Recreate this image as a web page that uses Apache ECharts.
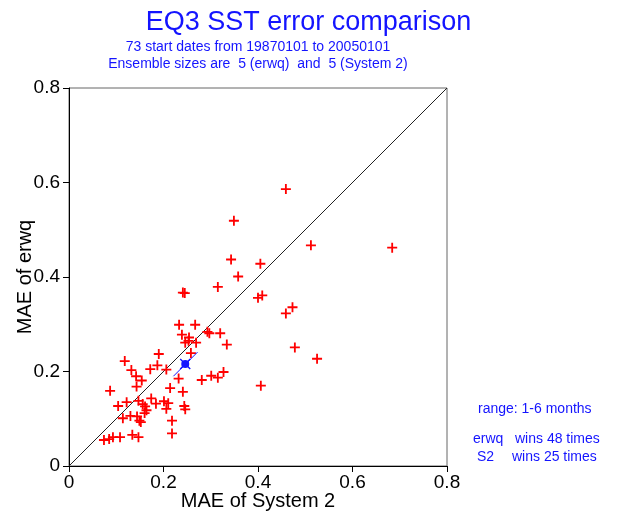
<!DOCTYPE html>
<html><head><meta charset="utf-8">
<script src="https://cdn.jsdelivr.net/npm/echarts@6/dist/echarts.min.js"></script>
<style>html,body{margin:0;padding:0;background:#fff}#c{width:617px;height:514px}</style>
</head><body><div id="c"></div>
<script>
// MAE of System 2 (x) and MAE of erwq (y) for each of the 73 start dates
const maeSystem2 = [
  0.459,0.349,0.512,0.684,0.343,0.405,0.358,0.315,0.241,0.400,
  0.409,0.459,0.473,0.478,0.525,0.233,0.267,0.239,0.254,0.253,
  0.246,0.269,0.293,0.297,0.320,0.334,0.258,0.190,0.118,0.187,
  0.172,0.206,0.132,0.142,0.154,0.232,0.281,0.301,0.315,0.327,
  0.406,0.143,0.214,0.241,0.087,0.122,0.104,0.147,0.156,0.161,
  0.174,0.184,0.201,0.210,0.164,0.206,0.244,0.246,0.114,0.130,
  0.144,0.149,0.218,0.218,0.074,0.085,0.093,0.108,0.134,0.147,
  0.160,0.152,0.245
];
const maeErwq = [
  0.586,0.519,0.467,0.462,0.437,0.428,0.401,0.379,0.367,0.356,
  0.361,0.323,0.336,0.251,0.227,0.299,0.299,0.278,0.272,0.265,
  0.261,0.261,0.284,0.281,0.281,0.257,0.239,0.237,0.222,0.213,
  0.205,0.204,0.203,0.190,0.181,0.185,0.182,0.191,0.187,0.199,
  0.170,0.168,0.165,0.157,0.159,0.135,0.127,0.138,0.131,0.126,
  0.143,0.132,0.137,0.133,0.118,0.121,0.127,0.120,0.101,0.106,
  0.105,0.096,0.096,0.069,0.055,0.057,0.061,0.061,0.066,0.061,
  0.112,0.093,0.366
];
const meanPoint = [0.246, 0.216];
const meanBarX = [0.221, 0.272];
const meanBarY = [0.190, 0.241];
const diagX = [0, 0.8];
const diagY = [0, 0.8];
const axisTicks = [0, 0.2, 0.4, 0.6, 0.8];

const titleText = 'EQ3 SST error comparison';
const subtitle1 = '73 start dates from 19870101 to 20050101';
const subtitle2 = 'Ensemble sizes are  5 (erwq)  and  5 (System 2)';
const rangeText = 'range: 1-6 months';
const winsA = ['erwq', 'wins 48 times'];
const winsB = ['S2', 'wins 25 times'];

const FONT = '"Liberation Sans", Arial, Helvetica, sans-serif';
const BLUE = '#1414ff';
const PLUS = 'path://M0,4.5L11,4.5L11,6.5L0,6.5ZM4.5,0L6.5,0L6.5,11L4.5,11Z';
const XMARK = 'path://M0,1L1,0L11,10L10,11ZM10,0L11,1L1,11L0,10Z';

const chart = echarts.init(document.getElementById('c'), null, {renderer: 'canvas'});
const fmt = v => v === 0 ? '0' : v.toFixed(1);
const axisCommon = {
  type: 'value', min: axisTicks[0], max: axisTicks[axisTicks.length - 1], interval: 0.2,
  splitLine: {show: false},
  axisLine: {show: true, onZero: false, lineStyle: {color: '#000', width: 1}},
  axisTick: {show: true, inside: false, length: 6, lineStyle: {color: '#000', width: 1}},
  nameLocation: 'middle',
  nameMoveOverlap: false,
  nameTextStyle: {fontFamily: FONT, fontSize: 20, color: '#000'}
};
chart.setOption({
  animation: false,
  backgroundColor: '#fff',
  grid: {left: 69, right: 170, top: 88, bottom: 48, show: true, borderColor: '#666', borderWidth: 1,
         containLabel: false, outerBoundsMode: 'none'},
  xAxis: Object.assign({}, axisCommon, {
    name: 'MAE of System 2', nameGap: 25,
    axisLabel: {fontFamily: FONT, fontSize: 19, color: '#000', margin: 7, formatter: fmt}
  }),
  yAxis: Object.assign({}, axisCommon, {
    name: 'MAE of erwq', nameGap: 34,
    axisLabel: {fontFamily: FONT, fontSize: 19, color: '#000', margin: 9, formatter: fmt}
  }),
  series: [
    {type: 'line', data: diagX.map((x, i) => [x, diagY[i]]), symbol: 'none', silent: true,
     lineStyle: {color: '#222', width: 1}, z: 1},
    {type: 'scatter', data: maeSystem2.map((x, i) => [x, maeErwq[i]]), symbol: PLUS, symbolSize: 10,
     itemStyle: {color: '#ff0000', opacity: 1}, z: 2},
    {type: 'line', data: meanBarX.map((x, i) => [x, meanBarY[i]]), symbol: 'none', silent: true,
     lineStyle: {color: BLUE, width: 1}, z: 3},
    {type: 'scatter', data: [meanPoint], symbol: XMARK, symbolSize: 11, itemStyle: {color: BLUE, opacity: 1}, z: 4},
    {type: 'scatter', data: [meanPoint], symbol: 'circle', symbolSize: 8, itemStyle: {color: BLUE, opacity: 1}, z: 5}
  ],
  graphic: [
    {type: 'text', left: 'center', top: 9, style: {text: titleText, fontFamily: FONT, fontSize: 27, fill: BLUE}},
    {type: 'text', x: 258, y: 40, style: {text: subtitle1, fontFamily: FONT, fontSize: 14, fill: BLUE, align: 'center'}},
    {type: 'text', x: 258, y: 57, style: {text: subtitle2, fontFamily: FONT, fontSize: 14, fill: BLUE, align: 'center'}},
    {type: 'text', x: 478, y: 402, style: {text: rangeText, fontFamily: FONT, fontSize: 14, fill: BLUE}},
    {type: 'text', x: 473, y: 432, style: {text: winsA[0], fontFamily: FONT, fontSize: 14, fill: BLUE}},
    {type: 'text', x: 515, y: 432, style: {text: winsA[1], fontFamily: FONT, fontSize: 14, fill: BLUE}},
    {type: 'text', x: 477, y: 450, style: {text: winsB[0], fontFamily: FONT, fontSize: 14, fill: BLUE}},
    {type: 'text', x: 512, y: 450, style: {text: winsB[1], fontFamily: FONT, fontSize: 14, fill: BLUE}}
  ]
});
</script>
</body></html>
